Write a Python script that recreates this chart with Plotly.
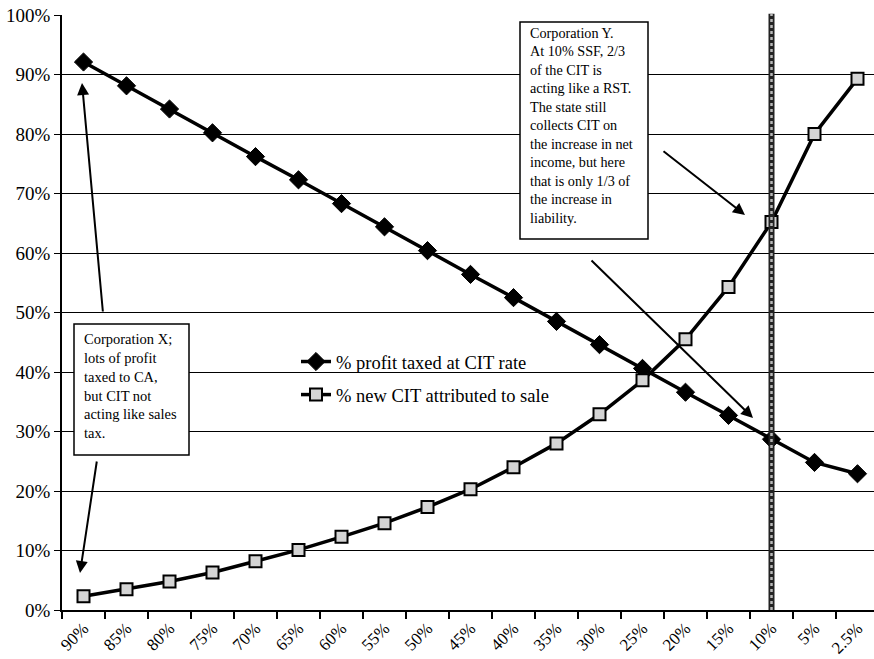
import plotly.graph_objects as go

categories = ["90%", "85%", "80%", "75%", "70%", "65%", "60%", "55%", "50%", "45%",
              "40%", "35%", "30%", "25%", "20%", "15%", "10%", "5%", "2.5%"]
profit_taxed = [92.1, 88.1, 84.2, 80.2, 76.2, 72.3, 68.3, 64.4, 60.4, 56.4,
                52.5, 48.5, 44.6, 40.6, 36.6, 32.7, 28.7, 24.8, 22.9]
new_cit_sale = [2.3, 3.5, 4.8, 6.3, 8.2, 10.1, 12.3, 14.6, 17.3, 20.3,
                24.0, 28.0, 32.9, 38.6, 45.5, 54.3, 65.2, 80.0, 89.3]
series_names = ["% profit taxed at CIT rate", "% new CIT attributed to sale"]
marked_category = "10%"
y_ticks = [0, 10, 20, 30, 40, 50, 60, 70, 80, 90, 100]

box_x_text = "Corporation X;<br>lots of profit<br>taxed to CA,<br>but CIT not<br>acting like sales<br>tax."
box_y_text = ("Corporation Y.<br>At 10% SSF, 2/3<br>of the CIT is<br>acting like a RST.<br>"
              "The state still<br>collects CIT on<br>the increase in net<br>income, but here<br>"
              "that is only 1/3 of<br>the increase in<br>liability.")

SERIF = "Liberation Serif, Times New Roman, serif"
W, H = 874, 659
L, R, T, B = 62, 0, 15, 49
PW, PH = W - L - R, H - T - B
X0, Y0 = L, H - B  # plot origin in page pixels


def px(xp):
    return (xp - X0) / PW


def py(yp):
    return (Y0 - yp) / PH


fig = go.Figure()
fig.add_trace(go.Scatter(
    x=categories, y=profit_taxed, name=series_names[0], mode="lines+markers",
    line=dict(color="black", width=3.5),
    marker=dict(symbol="diamond", size=14, color="black", line=dict(color="black", width=1)),
    legendgroup="a",
))
fig.add_trace(go.Scatter(
    x=categories, y=new_cit_sale, name=series_names[1], mode="lines+markers",
    line=dict(color="black", width=3.5),
    marker=dict(symbol="square", size=12, color="#d4d4d4", line=dict(color="black", width=2)),
    legendgroup="b",
))

# vertical marker line at the 10% category
fig.add_shape(type="line", xref="x", yref="y domain", x0=marked_category, x1=marked_category,
              y0=0, y1=1.002, line=dict(color="#222222", width=6), layer="above")
fig.add_shape(type="line", xref="x", yref="y domain", x0=marked_category, x1=marked_category,
              y0=0, y1=1.002, line=dict(color="#b8b8b8", width=2.5, dash="dot"), layer="above")

# text boxes
for (x0, y0, x1, y1) in [(74, 324, 189, 455), (520, 22, 648, 239)]:
    fig.add_shape(type="rect", xref="x domain", yref="y domain",
                  x0=px(x0), x1=px(x1), y0=py(y1), y1=py(y0),
                  line=dict(color="black", width=1.5), fillcolor="white", layer="above")

fig.add_annotation(xref="x domain", yref="y domain", x=px(82), y=py(329),
                   xanchor="left", yanchor="top", align="left", showarrow=False,
                   text=box_x_text, font=dict(family=SERIF, size=14.5, color="black"))
fig.add_annotation(xref="x domain", yref="y domain", x=px(528), y=py(23),
                   xanchor="left", yanchor="top", align="left", showarrow=False,
                   text=box_y_text, font=dict(family=SERIF, size=14.2, color="black"))

# arrows (tail -> tip)
arrows = [((103, 313), (82, 83)), ((97, 460), (80, 573)),
          ((662, 150), (745, 215)), ((590, 259), (753, 418))]
for (tx, ty), (hx, hy) in arrows:
    fig.add_annotation(xref="x domain", yref="y domain", axref="x domain", ayref="y domain",
                       x=px(hx), y=py(hy), ax=px(tx), ay=py(ty), text="",
                       showarrow=True, arrowhead=2, arrowsize=1.2, arrowwidth=2, arrowcolor="black")

fig.update_layout(
    width=W, height=H,
    margin=dict(l=L, r=R, t=T, b=B),
    paper_bgcolor="white", plot_bgcolor="white",
    font=dict(family=SERIF, color="black"),
    showlegend=True,
    legend=dict(x=px(296), y=py(343), xanchor="left", yanchor="top",
                bgcolor="rgba(0,0,0,0)", font=dict(family=SERIF, size=18.5, color="black"),
                traceorder="grouped", tracegroupgap=6, itemwidth=30),
    xaxis=dict(type="category", categoryorder="array", categoryarray=categories,
               range=[-0.5, -0.5 + PW / 43.0], tickson="boundaries", ticks="outside",
               ticklen=7, tickwidth=1.5, tickcolor="black", tickangle=-45,
               showgrid=False, showline=True, linecolor="black", linewidth=1.5,
               tickfont=dict(family=SERIF, size=17, color="black"), automargin=False,
               zeroline=False, ticklabeloverflow="allow"),
    yaxis=dict(range=[0, 100], tickvals=y_ticks, ticktext=[f"{v}%" for v in y_ticks],
               ticks="outside", ticklen=6, tickwidth=1, tickcolor="black",
               showgrid=True, gridcolor="black", gridwidth=1,
               showline=True, linecolor="black", linewidth=1.5,
               tickfont=dict(family=SERIF, size=19, color="black"), automargin=False,
               zeroline=False, ticklabeloverflow="allow"),
)

fig.write_html("out.html", config={"displayModeBar": False},
               post_script="document.body.style.margin='0px';")
